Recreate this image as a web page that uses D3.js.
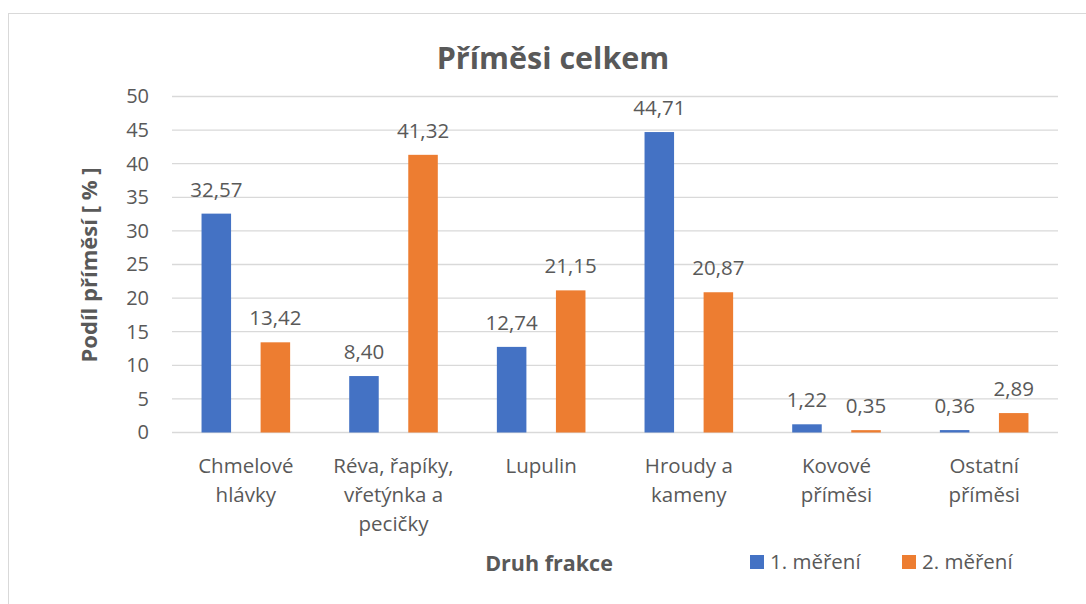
<!DOCTYPE html>
<html>
<head>
<meta charset="utf-8">
<script src="https://cdn.jsdelivr.net/npm/d3@7"></script>
<style>
    body { margin: 0; background: #fff; }
    text { font-family: "Segoe UI", "Open Sans", sans-serif; fill: #595959; }
</style>
</head>
<body>
<div class="chart-main"></div>
<script>
// data
var categories = [
    ['Chmelové', 'hlávky'],
    ['Réva, řapíky,', 'vřetýnka a', 'pecičky'],
    ['Lupulin'],
    ['Hroudy a', 'kameny'],
    ['Kovové', 'příměsi'],
    ['Ostatní', 'příměsi']
];
var series1 = [32.57, 8.40, 12.74, 44.71, 1.22, 0.36];
var series2 = [13.42, 41.32, 21.15, 20.87, 0.35, 2.89];
var seriesNames = ['1. měření', '2. měření'];
var yTicks = [0, 5, 10, 15, 20, 25, 30, 35, 40, 45, 50];

var colors = ['#4472c4', '#ed7d31'];
var w = 1086, h = 604;

var svg = d3.select('.chart-main')
    .append('svg')
    .attr('width', w)
    .attr('height', h);

// chart border
svg.append('rect')
    .attr('x', 8.5).attr('y', 13.5)
    .attr('width', 1100).attr('height', 620)
    .attr('fill', 'none')
    .attr('stroke', '#d9d9d9')
    .attr('stroke-width', 1);

// scales
var x = d3.scaleBand()
    .domain(d3.range(categories.length))
    .range([172, 1058]);

var y = d3.scaleLinear()
    .domain([0, 50])
    .range([432.5, 96.5]);

// gridlines
svg.append('g')
    .selectAll('line')
    .data(yTicks)
    .enter()
    .append('line')
    .attr('x1', 172).attr('x2', 1058)
    .attr('y1', function(d) { return y(d); })
    .attr('y2', function(d) { return y(d); })
    .attr('stroke', '#d9d9d9')
    .attr('stroke-width', 1.3);

// y axis labels
var yAxis = d3.axisLeft(y)
    .tickValues(yTicks)
    .tickSize(0)
    .tickPadding(23);

var yg = svg.append('g')
    .attr('transform', 'translate(172,0)')
    .call(yAxis);
yg.select('.domain').remove();
yg.selectAll('text')
    .style('font-size', '20px')
    .style('font-family', '"Segoe UI", "Open Sans", sans-serif')
    .attr('fill', '#595959');

// bars
var bw = x.bandwidth() * 0.2;
var off = [-x.bandwidth() * 0.2, x.bandwidth() * 0.2];
[series1, series2].forEach(function(s, si) {
    var g = svg.append('g');
    g.selectAll('rect')
        .data(s)
        .enter()
        .append('rect')
        .attr('x', function(d, i) { return x(i) + x.bandwidth() / 2 + off[si] - bw / 2; })
        .attr('y', function(d) { return y(d); })
        .attr('width', bw)
        .attr('height', function(d) { return y(0) - y(d); })
        .attr('fill', colors[si]);
    g.selectAll('text')
        .data(s)
        .enter()
        .append('text')
        .attr('x', function(d, i) { return x(i) + x.bandwidth() / 2 + off[si]; })
        .attr('y', function(d) { return y(d) - 17; })
        .attr('text-anchor', 'middle')
        .style('font-size', '20.5px')
        .text(function(d) { return d.toFixed(2).replace('.', ','); });
});

// category labels
var cat = svg.append('g').selectAll('text')
    .data(categories)
    .enter()
    .append('text')
    .attr('text-anchor', 'middle')
    .style('font-size', '20.5px');
cat.each(function(lines, i) {
    d3.select(this).selectAll('tspan')
        .data(lines)
        .enter()
        .append('tspan')
        .attr('x', x(i) + x.bandwidth() / 2)
        .attr('y', function(d, j) { return 473 + j * 29; })
        .text(function(d) { return d; });
});

// title
svg.append('text')
    .attr('x', 553).attr('y', 69)
    .attr('text-anchor', 'middle')
    .style('font-size', '30.5px')
    .style('font-weight', 'bold')
    .text('Příměsi celkem');

// axis titles
svg.append('text')
    .attr('transform', 'translate(97,265) rotate(-90)')
    .attr('text-anchor', 'middle')
    .style('font-size', '22px')
    .style('font-weight', 'bold')
    .text('Podíl příměsí [ % ]');

svg.append('text')
    .attr('x', 549).attr('y', 571)
    .attr('text-anchor', 'middle')
    .style('font-size', '21.5px')
    .style('font-weight', 'bold')
    .text('Druh frakce');

// legend
var legX = [750, 902];
var leg = svg.append('g').selectAll('g')
    .data(seriesNames)
    .enter()
    .append('g')
    .attr('transform', function(d, i) { return 'translate(' + legX[i] + ',555)'; });
leg.append('rect')
    .attr('width', 14).attr('height', 14)
    .attr('fill', function(d, i) { return colors[i]; });
leg.append('text')
    .attr('x', 20).attr('y', 14)
    .style('font-size', '20.5px')
    .text(function(d) { return d; });
</script>
</body>
</html>
